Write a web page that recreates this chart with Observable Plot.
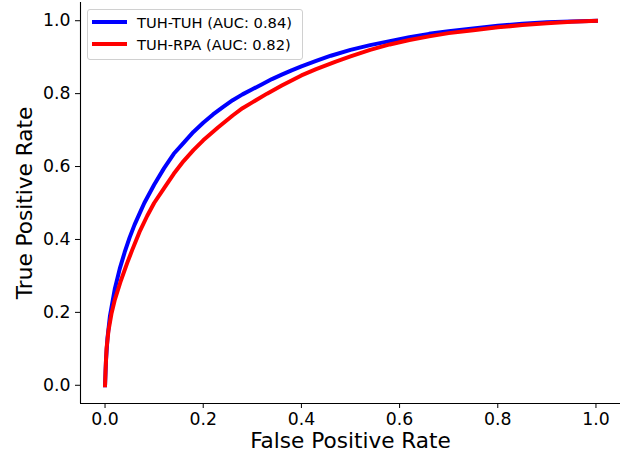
<!DOCTYPE html>
<html>
<head>
<meta charset="utf-8">
<script src="https://cdn.jsdelivr.net/npm/d3@7"></script>
<script src="https://cdn.jsdelivr.net/npm/@observablehq/plot@0.6"></script>
<style>
  body { margin: 0; background: #fff; font-family: "DejaVu Sans", sans-serif; }
  #wrap { position: relative; width: 624px; height: 459px; }
  .legend { position: absolute; left: 87px; top: 9px; width: 214px; height: 49px;
    border: 1px solid #d0d0d0; border-radius: 3px; background: rgba(255,255,255,0.8);
    font-size: 14.7px; color: #000; }
  .legend .row { position: absolute; left: 0; height: 20px; display: flex; align-items: center; white-space: nowrap; }
  .legend .sw { width: 35px; height: 4px; margin-left: 4px; margin-right: 10px; }
</style>
</head>
<body>
<div id="wrap"></div>
<script>
// Series: TUH-TUH (blue)
const tuhTuhFpr = [0,0.002,0.005,0.01,0.02,0.03,0.04,0.05,0.06,0.07,0.08,0.10,0.12,0.14,0.16,0.18,0.20,0.22,0.24,0.26,0.28,0.30,0.32,0.34,0.36,0.38,0.40,0.43,0.46,0.50,0.54,0.58,0.62,0.66,0.70,0.75,0.80,0.85,0.90,0.95,1];
const tuhTuhTpr = [0,0.07,0.13,0.19,0.265,0.32,0.365,0.405,0.44,0.47,0.50,0.55,0.595,0.635,0.665,0.695,0.72,0.743,0.763,0.782,0.798,0.812,0.826,0.840,0.852,0.864,0.875,0.890,0.904,0.920,0.933,0.944,0.955,0.964,0.971,0.979,0.986,0.992,0.996,0.998,1];
// Series: TUH-RPA (red)
const tuhRpaFpr = [0,0.001,0.003,0.007,0.013,0.02,0.032,0.045,0.055,0.07,0.086,0.10,0.12,0.14,0.16,0.18,0.20,0.23,0.26,0.28,0.30,0.33,0.36,0.40,0.43,0.47,0.50,0.54,0.58,0.62,0.66,0.70,0.75,0.80,0.85,0.90,0.95,1];
const tuhRpaTpr = [0,0.04,0.10,0.15,0.196,0.235,0.286,0.335,0.37,0.42,0.465,0.50,0.54,0.58,0.615,0.645,0.672,0.707,0.740,0.760,0.776,0.800,0.822,0.850,0.867,0.888,0.902,0.920,0.935,0.947,0.957,0.966,0.974,0.982,0.988,0.993,0.997,1];

const seriesNames = ["TUH-TUH (AUC: 0.84)", "TUH-RPA (AUC: 0.82)"];
const seriesColors = ["blue", "red"];
const tickValues = [0, 0.2, 0.4, 0.6, 0.8, 1.0];
const axisDomain = [-0.05, 1.05];
const xLabel = "False Positive Rate";
const yLabel = "True Positive Rate";

const blue = tuhTuhFpr.map((x, i) => ({x, y: tuhTuhTpr[i]}));
const red = tuhRpaFpr.map((x, i) => ({x, y: tuhRpaTpr[i]}));

const chart = Plot.plot({
  width: 624,
  height: 459,
  marginLeft: 80,
  marginRight: 4,
  marginTop: 2,
  marginBottom: 56,
  style: {fontFamily: "DejaVu Sans", fontSize: "17.3px", color: "#000", background: "#fff"},
  x: {domain: axisDomain, ticks: tickValues, tickFormat: d3.format(".1f"), tickSize: 5, tickPadding: 4, label: null},
  y: {domain: axisDomain, ticks: tickValues, tickFormat: d3.format(".1f"), tickSize: 5, tickPadding: 5, label: null},
  marks: [
    Plot.ruleX([axisDomain[0]], {stroke: "#000", strokeWidth: 1.1}),
    Plot.ruleY([axisDomain[0]], {stroke: "#000", strokeWidth: 1.1}),
    Plot.line(blue, {x: "x", y: "y", stroke: seriesColors[0], strokeWidth: 4, strokeLinecap: "square"}),
    Plot.line(red, {x: "x", y: "y", stroke: seriesColors[1], strokeWidth: 4, strokeLinecap: "square"}),
    Plot.text([xLabel], {frameAnchor: "bottom", dy: 44, fontSize: 21.6, fill: "#000", textAnchor: "middle"}),
    Plot.text([yLabel], {frameAnchor: "left", dx: -55, rotate: -90, fontSize: 21.6, fill: "#000", textAnchor: "middle"})
  ]
});

const wrap = document.getElementById("wrap");
wrap.appendChild(chart);

const legend = document.createElement("div");
legend.className = "legend";
seriesNames.forEach((name, i) => {
  const row = document.createElement("div");
  row.className = "row";
  row.style.top = (2 + i * 22) + "px";
  const sw = document.createElement("span");
  sw.className = "sw";
  sw.style.background = seriesColors[i];
  const t = document.createElement("span");
  t.textContent = name;
  row.appendChild(sw);
  row.appendChild(t);
  legend.appendChild(row);
});
wrap.appendChild(legend);
</script>
</body>
</html>
